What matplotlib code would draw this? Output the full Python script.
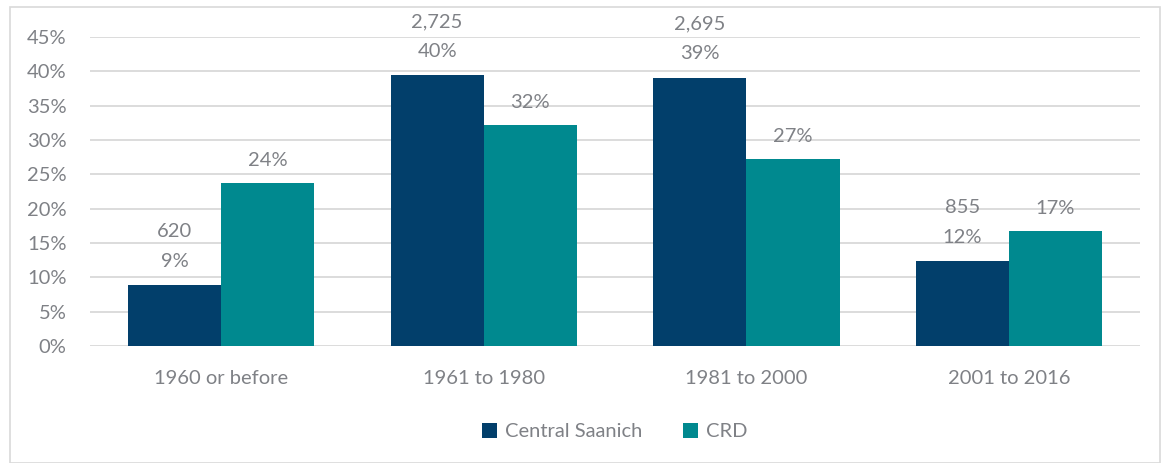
import matplotlib.pyplot as plt
from matplotlib.patches import Rectangle
import numpy as np

# Data
categories = ["1960 or before", "1961 to 1980", "1981 to 2000", "2001 to 2016"]
saanich_pct = [8.9, 39.5, 39.1, 12.4]
saanich_count = ["620", "2,725", "2,695", "855"]
saanich_labels = ["9%", "40%", "39%", "12%"]
crd_pct = [23.8, 32.2, 27.3, 16.8]
crd_labels = ["24%", "32%", "27%", "17%"]

navy = "#023f6b"
teal = "#00898f"
grey = "#7f8186"

plt.rcParams['font.family'] = ['Lato', 'DejaVu Sans']

fig = plt.figure(figsize=(11.61, 4.63), dpi=100)
ax = fig.add_axes([0.0775, 0.2527, 0.9045, 0.6673])

x = np.arange(len(categories))
w = 0.355
b1 = ax.bar(x - w / 2, saanich_pct, w, color=navy, label="Central Saanich", zorder=3)
b2 = ax.bar(x + w / 2, crd_pct, w, color=teal, label="CRD", zorder=3)

for rect, cnt, lab in zip(b1, saanich_count, saanich_labels):
    ax.annotate(cnt + "\n" + lab, (rect.get_x() + rect.get_width() / 2, rect.get_height()),
                xytext=(0, 11), textcoords="offset points", ha="center", va="bottom",
                fontsize=14.5, color=grey, linespacing=1.9)
for rect, lab in zip(b2, crd_labels):
    ax.annotate(lab, (rect.get_x() + rect.get_width() / 2, rect.get_height()),
                xytext=(0, 10), textcoords="offset points", ha="center", va="bottom",
                fontsize=14.5, color=grey)

ax.set_xlim(-0.5, 3.5)
ax.set_ylim(0, 45)
ax.set_yticks(range(0, 46, 5))
ax.set_yticklabels([f"{v}%" for v in range(0, 46, 5)])
ax.set_xticks(x)
ax.set_xticklabels(categories)
ax.tick_params(axis="both", length=0, labelsize=14.5, labelcolor=grey)
ax.tick_params(axis="x", pad=17)
ax.tick_params(axis="y", pad=17)
ax.yaxis.grid(True, color="#d9d9d9", linewidth=1.3, zorder=0)
for s in ax.spines.values():
    s.set_visible(False)

ax.legend(loc="upper center", bbox_to_anchor=(0.5, -0.19), ncol=2, frameon=False,
          fontsize=14.5, labelcolor=grey, handlelength=0.75, handleheight=0.75,
          handletextpad=0.4, columnspacing=2.0)

fig.patches.append(Rectangle((0.009, 0.0), 0.99, 0.984, transform=fig.transFigure,
                             fill=False, edgecolor="#d9d9d9", linewidth=1.2))

fig.savefig("out.png", dpi=100)
